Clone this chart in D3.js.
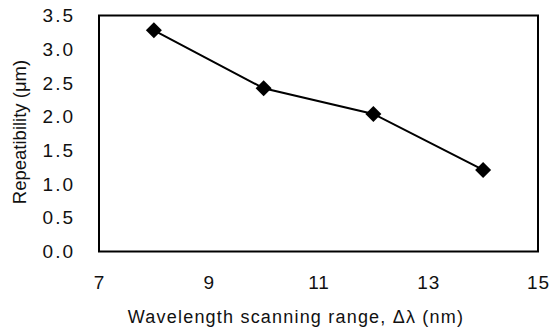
<!DOCTYPE html>
<html><head><meta charset="utf-8">
<script src="https://cdn.jsdelivr.net/npm/d3@7"></script>
<style>
body{margin:0;background:#fff;}
text{font-family:"Liberation Sans",Arial,sans-serif;fill:#111;}
</style></head>
<body>
<svg id="c" width="549" height="329"></svg>
<script>
const xValues = [8, 10, 12, 14];
const repeatability = [3.28, 2.42, 2.04, 1.21];
const xTicks = [7, 9, 11, 13, 15];
const yTicks = [0, 0.5, 1.0, 1.5, 2.0, 2.5, 3.0, 3.5];
const xTitle = "Wavelength scanning range, Δλ (nm)";
const yTitle = "Repeatibility (μm)";

const svg = d3.select("#c");
const L = 99, R = 538, T = 15.5, B = 251.5;
const x = d3.scaleLinear().domain([7, 15]).range([L, R]);
const y = d3.scaleLinear().domain([0, 3.5]).range([B, T]);

// frame
svg.append("rect").attr("x", L).attr("y", T).attr("width", R - L).attr("height", B - T)
  .attr("fill", "none").attr("stroke", "#000").attr("stroke-width", 2);

// y axis labels
const yAxis = d3.axisLeft(y).tickValues(yTicks).tickFormat(d3.format(".1f")).tickSize(0).tickPadding(24);
const gy = svg.append("g").attr("transform", `translate(${L},0)`).call(yAxis);
gy.select(".domain").remove();
gy.selectAll("text").style("font-size", "19px").style("letter-spacing", "2px")
  .attr("font-family", "Liberation Sans, Arial, sans-serif").attr("fill", "#111");

// x axis labels
const xAxis = d3.axisBottom(x).tickValues(xTicks).tickFormat(d3.format("d")).tickSize(0).tickPadding(24);
const gx = svg.append("g").attr("transform", `translate(0,${B})`).call(xAxis);
gx.select(".domain").remove();
gx.selectAll("text").style("font-size", "19px").style("letter-spacing", "1px")
  .attr("font-family", "Liberation Sans, Arial, sans-serif").attr("fill", "#111");

// titles
svg.append("text").attr("x", 296).attr("y", 323).attr("text-anchor", "middle")
  .style("font-size", "18px").style("letter-spacing", "1.2px").text(xTitle);
svg.append("text").attr("transform", `translate(26,132) rotate(-90)`).attr("text-anchor", "middle")
  .style("font-size", "18.5px").text(yTitle);

// line
const pts = xValues.map((v, i) => [v, repeatability[i]]);
svg.append("path").datum(pts).attr("fill", "none").attr("stroke", "#000").attr("stroke-width", 2)
  .attr("d", d3.line().x(d => x(d[0])).y(d => y(d[1])));

// markers
svg.selectAll("path.m").data(pts).enter().append("path").attr("class", "m")
  .attr("transform", d => `translate(${x(d[0])},${y(d[1])})`)
  .attr("d", "M0,-8L8,0L0,8L-8,0Z").attr("fill", "#000");
</script>
</body></html>
